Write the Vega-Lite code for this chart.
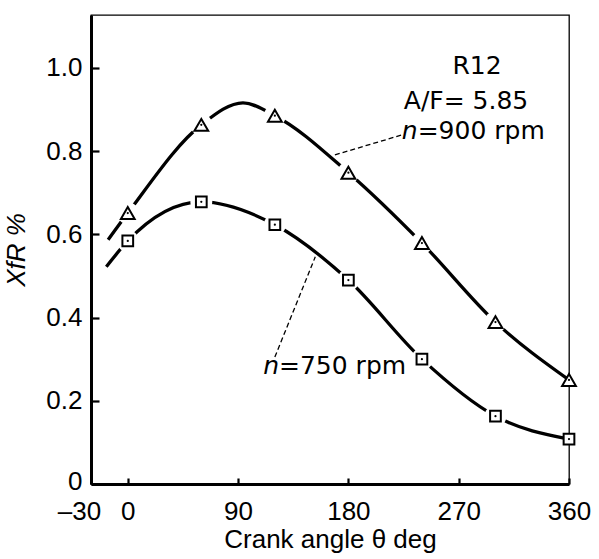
{
  "$schema": "https://vega.github.io/schema/vega-lite/v6.json",
  "width": 478,
  "height": 469,
  "autosize": {"type": "none"},
  "padding": {"left": 91, "top": 15, "right": 30, "bottom": 75},
  "background": "white",
  "config": {
    "view": {"stroke": "black", "strokeWidth": 1.3},
    "font": "Liberation Sans",
    "axis": {
      "grid": false,
      "ticks": true,
      "tickColor": "black",
      "tickWidth": 2.2,
      "labelOverlap": false,
      "labelFlush": false,
      "domainColor": "black",
      "domainWidth": 3,
      "labelColor": "black",
      "titleColor": "black",
      "labelFontSize": 26,
      "titleFontSize": 26,
      "titleFontWeight": "normal"
    }
  },
  "datasets": {
    "points": [
      {"angle": 0, "xfr": 0.651, "series": "900 rpm"},
      {"angle": 60, "xfr": 0.863, "series": "900 rpm"},
      {"angle": 120, "xfr": 0.885, "series": "900 rpm"},
      {"angle": 180, "xfr": 0.748, "series": "900 rpm"},
      {"angle": 240, "xfr": 0.579, "series": "900 rpm"},
      {"angle": 300, "xfr": 0.389, "series": "900 rpm"},
      {"angle": 360, "xfr": 0.25, "series": "900 rpm"},
      {"angle": 0, "xfr": 0.584, "series": "750 rpm"},
      {"angle": 60, "xfr": 0.678, "series": "750 rpm"},
      {"angle": 120, "xfr": 0.623, "series": "750 rpm"},
      {"angle": 180, "xfr": 0.49, "series": "750 rpm"},
      {"angle": 240, "xfr": 0.3, "series": "750 rpm"},
      {"angle": 300, "xfr": 0.163, "series": "750 rpm"},
      {"angle": 360, "xfr": 0.108, "series": "750 rpm"}
    ],
    "curves": [
      {"angle": -16, "xfr": 0.587, "series": "900 rpm"},
      {"angle": 0, "xfr": 0.651, "series": "900 rpm"},
      {"angle": 60, "xfr": 0.863, "series": "900 rpm"},
      {"angle": 94, "xfr": 0.916, "series": "900 rpm"},
      {"angle": 120, "xfr": 0.885, "series": "900 rpm"},
      {"angle": 180, "xfr": 0.748, "series": "900 rpm"},
      {"angle": 240, "xfr": 0.579, "series": "900 rpm"},
      {"angle": 300, "xfr": 0.389, "series": "900 rpm"},
      {"angle": 360, "xfr": 0.25, "series": "900 rpm"},
      {"angle": -17.5, "xfr": 0.522, "series": "750 rpm"},
      {"angle": 0, "xfr": 0.584, "series": "750 rpm"},
      {"angle": 60, "xfr": 0.678, "series": "750 rpm"},
      {"angle": 120, "xfr": 0.623, "series": "750 rpm"},
      {"angle": 180, "xfr": 0.49, "series": "750 rpm"},
      {"angle": 240, "xfr": 0.3, "series": "750 rpm"},
      {"angle": 300, "xfr": 0.163, "series": "750 rpm"},
      {"angle": 360, "xfr": 0.108, "series": "750 rpm"}
    ],
    "leaders": [
      {"a1": 169, "v1": 0.791, "a2": 224, "v2": 0.839},
      {"a1": 120, "v1": 0.305, "a2": 153, "v2": 0.546}
    ],
    "notes": [
      {"angle": 285, "xfr": 1.005, "text": "R12"},
      {"angle": 276, "xfr": 0.92, "text": "A/F= 5.85"}
    ],
    "nvar": [
      {"angle": 236.5, "xfr": 0.848, "text": "n"},
      {"angle": 123.4, "xfr": 0.284, "text": "n"}
    ],
    "rest": [
      {"angle": 236.5, "xfr": 0.848, "text": "=900 rpm"},
      {"angle": 123.4, "xfr": 0.284, "text": "=750 rpm"}
    ]
  },
  "layer": [
    {
      "data": {"name": "curves"},
      "mark": {"type": "line", "interpolate": "monotone", "color": "black", "strokeWidth": 3.3},
      "encoding": {
        "x": {
          "field": "angle", "type": "quantitative",
          "scale": {"domain": [-30, 360], "nice": false, "zero": false},
          "axis": {
            "values": [-30, 0, 90, 180, 270, 360],
            "labelExpr": "datum.value == -30 ? '–30' : datum.label",
            "labelOffset": {"condition": {"test": "datum.value == -30", "value": -12}, "value": 0},
            "tickSize": -6,
            "labelPadding": 20,
            "title": "Crank  angle  θ  deg",
            "titlePadding": 2
          }
        },
        "y": {
          "field": "xfr", "type": "quantitative",
          "scale": {"domain": [0, 1.127], "nice": false},
          "axis": {
            "values": [0, 0.2, 0.4, 0.6, 0.8, 1.0],
            "labelExpr": "datum.value == 0 ? '0' : format(datum.value, '.1f')",
            "labelOffset": {"condition": {"test": "datum.value == 0", "value": -3}, "value": 0},
            "tickSize": -8,
            "labelPadding": 17,
            "title": "XfR  %",
            "titleFontStyle": "italic",
            "titlePadding": 16
          }
        },
        "detail": {"field": "series"}
      }
    },
    {
      "data": {"name": "points"},
      "transform": [{"filter": "datum.angle < 360"}],
      "mark": {"type": "point", "shape": "circle", "filled": true, "color": "white", "opacity": 1, "size": 480},
      "encoding": {
        "x": {"field": "angle", "type": "quantitative"},
        "y": {"field": "xfr", "type": "quantitative"}
      }
    },
    {
      "data": {"name": "points"},
      "mark": {"type": "point", "fill": "white", "stroke": "black", "strokeWidth": 2, "opacity": 1},
      "encoding": {
        "x": {"field": "angle", "type": "quantitative"},
        "y": {"field": "xfr", "type": "quantitative"},
        "shape": {"field": "series", "type": "nominal", "scale": {"domain": ["900 rpm", "750 rpm"], "range": ["triangle-up", "square"]}, "legend": null},
        "size": {"field": "series", "type": "nominal", "scale": {"domain": ["900 rpm", "750 rpm"], "range": [190, 115]}, "legend": null}
      }
    },
    {
      "data": {"name": "points"},
      "mark": {"type": "point", "shape": "circle", "filled": true, "color": "black", "opacity": 1, "size": 5},
      "encoding": {
        "x": {"field": "angle", "type": "quantitative"},
        "y": {"field": "xfr", "type": "quantitative"}
      }
    },
    {
      "data": {"name": "leaders"},
      "mark": {"type": "rule", "color": "black", "strokeWidth": 1.3, "strokeDash": [5, 3]},
      "encoding": {
        "x": {"field": "a1", "type": "quantitative"},
        "y": {"field": "v1", "type": "quantitative"},
        "x2": {"field": "a2"},
        "y2": {"field": "v2"}
      }
    },
    {
      "data": {"name": "notes"},
      "mark": {"type": "text", "font": "DejaVu Sans", "fontSize": 25, "align": "center", "baseline": "middle", "color": "black"},
      "encoding": {
        "x": {"field": "angle", "type": "quantitative"},
        "y": {"field": "xfr", "type": "quantitative"},
        "text": {"field": "text"}
      }
    },
    {
      "data": {"name": "nvar"},
      "mark": {"type": "text", "font": "DejaVu Sans", "fontSize": 25, "fontStyle": "italic", "align": "right", "baseline": "middle", "color": "black"},
      "encoding": {
        "x": {"field": "angle", "type": "quantitative"},
        "y": {"field": "xfr", "type": "quantitative"},
        "text": {"field": "text"}
      }
    },
    {
      "data": {"name": "rest"},
      "mark": {"type": "text", "font": "DejaVu Sans", "fontSize": 25, "align": "left", "baseline": "middle", "color": "black"},
      "encoding": {
        "x": {"field": "angle", "type": "quantitative"},
        "y": {"field": "xfr", "type": "quantitative"},
        "text": {"field": "text"}
      }
    }
  ]
}
